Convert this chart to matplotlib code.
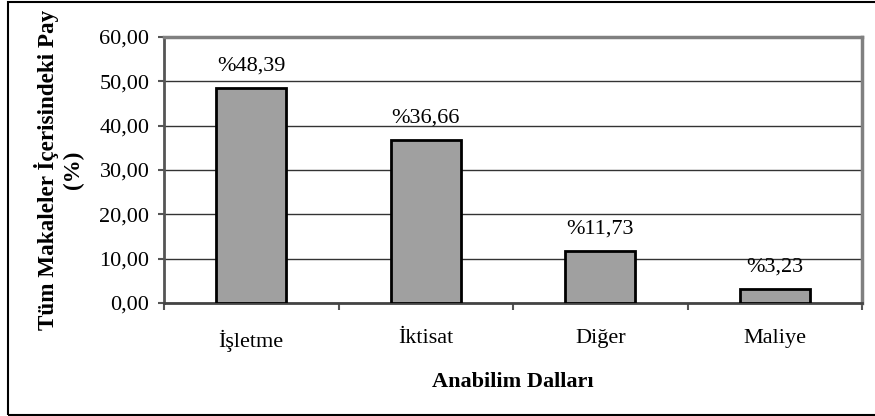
import matplotlib
matplotlib.use("Agg")
import matplotlib.pyplot as plt
from matplotlib.patches import Rectangle
from matplotlib.ticker import FuncFormatter, FixedLocator

# Data
categories = ["İşletme", "İktisat", "Diğer", "Maliye"]
shares = [48.39, 36.66, 11.73, 3.23]
share_labels = ["%48,39", "%36,66", "%11,73", "%3,23"]

plt.rcParams["font.family"] = ["Liberation Serif", "DejaVu Serif"]

fig = plt.figure(figsize=(8.75, 4.16), dpi=100)
# outer chart frame (right edge falls outside the picture)
fig.patches.append(Rectangle((7.5 / 875, 1.5 / 416), 1.0, 413 / 416, transform=fig.transFigure,
                             fill=False, edgecolor="black", linewidth=1.5))

ax = fig.add_axes([164 / 875, 1 - 303 / 416, (862 - 164) / 875, (303 - 37) / 416])

x = range(len(categories))
ax.bar(x, shares, width=0.4, color="#a0a0a0", edgecolor="black", linewidth=2, zorder=3)

for xi, val, lab in zip(x, shares, share_labels):
    ax.annotate(lab, (xi, val), xytext=(0, 9), textcoords="offset points",
                ha="center", va="bottom", fontsize=16, zorder=4)

ax.set_xlim(-0.5, len(categories) - 0.5)
ax.set_ylim(0, 60)
ax.set_yticks(range(0, 61, 10))
ax.yaxis.set_major_formatter(FuncFormatter(lambda v, p: f"{v:.2f}".replace(".", ",")))
ax.grid(axis="y", color="#333333", linewidth=1, zorder=1)

ax.set_xticks(list(x))
ax.set_xticklabels(categories, fontsize=16)
ax.tick_params(axis="x", length=0, pad=19)
ax.xaxis.set_minor_locator(FixedLocator([i - 0.5 for i in range(len(categories) + 1)]))
ax.tick_params(axis="x", which="minor", length=5, width=1.5, color="#555555")
ax.tick_params(axis="y", length=4.5, width=1.5, color="#555555", labelsize=16, pad=6)

for side in ["top", "right"]:
    ax.spines[side].set_color("#808080")
    ax.spines[side].set_linewidth(2.5)
ax.spines["left"].set_color("#555555")
ax.spines["left"].set_linewidth(2)
ax.spines["bottom"].set_color("#444444")
ax.spines["bottom"].set_linewidth(2)

ax.set_xlabel("Anabilim Dalları", fontsize=16, fontweight="bold", labelpad=15)
ax.set_ylabel("Tüm Makaleler İçerisindeki Pay\n(%)", fontsize=16.7, fontweight="bold",
              linespacing=1.25)
ax.yaxis.set_label_coords(-0.114, 0.5)

fig.savefig("out.png", dpi=100)
